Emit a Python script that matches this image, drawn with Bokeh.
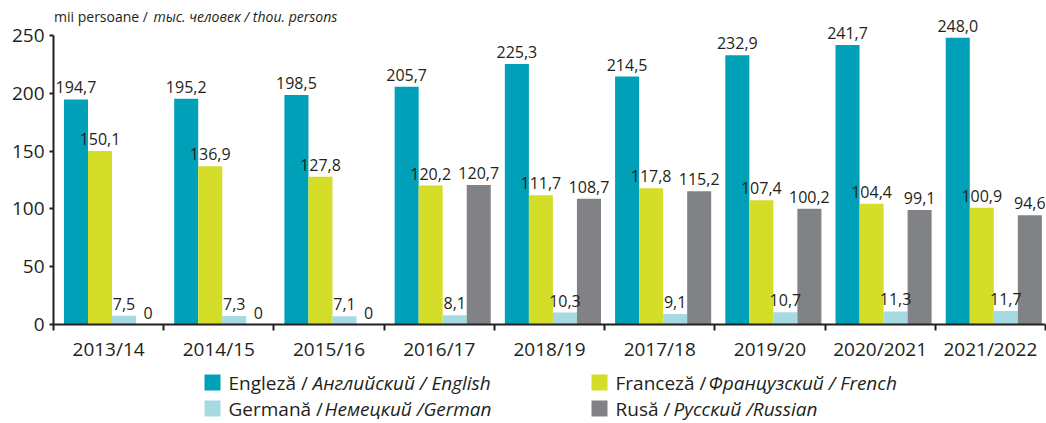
from bokeh.plotting import figure
from bokeh.models import ColumnDataSource, LabelSet, Label, Range1d, FixedTicker
from bokeh.layouts import column
from bokeh.embed import file_html
from bokeh.resources import INLINE
from bokeh.core.properties import value

# ---------------- data ----------------
categories = ["2013/14", "2014/15", "2015/16", "2016/17", "2018/19",
              "2017/18", "2019/20", "2020/2021", "2021/2022"]
english = [194.7, 195.2, 198.5, 205.7, 225.3, 214.5, 232.9, 241.7, 248.0]
french = [150.1, 136.9, 127.8, 120.2, 111.7, 117.8, 107.4, 104.4, 100.9]
german = [7.5, 7.3, 7.1, 8.1, 10.3, 9.1, 10.7, 11.3, 11.7]
russian = [0, 0, 0, 120.7, 108.7, 115.2, 100.2, 99.1, 94.6]
y_ticks = [0, 50, 100, 150, 200, 250]
Y_MAX = 250

legend_regular = ["Engleză /", "Franceză /", "Germană /", "Rusă /"]
legend_italic = ["Английский / English", "Французский / French",
                 "Немецкий /German", "Русский /Russian"]
unit_regular = "mii persoane /"
unit_italic = "тыс. человек / thou. persons"

# ---------------- style / layout ----------------
series_values = [english, french, german, russian]
series_colors = ["#00A1B8", "#D4DE28", "#A6DAE2", "#818286"]
FONT = "Open Sans"
TXT = "#231F20"
W = 1046
H_MAIN, H_LEG = 370, 53
FRAME_LEFT, FRAME_TOP, FRAME_BOTTOM = 53, 3, 324   # page pixels
Y_TOP_PX = 35                                       # page pixel of Y_MAX
BAR_W = 0.218
GROUP_START = 0.095
n = len(categories)

px_per_unit = (FRAME_BOTTOM - Y_TOP_PX) / Y_MAX
y_end = (FRAME_BOTTOM - FRAME_TOP) / px_per_unit
px_per_cat = (W - 1 - FRAME_LEFT) / n


def fmt(v):
    return "0" if v == 0 else f"{v:.1f}".replace(".", ",")


p = figure(width=W, height=H_MAIN, x_range=Range1d(0, n), y_range=Range1d(0, y_end),
           output_backend="svg", toolbar_location=None,
           min_border_left=FRAME_LEFT, min_border_right=1,
           min_border_top=FRAME_TOP, min_border_bottom=H_MAIN - FRAME_BOTTOM)
p.outline_line_color = None
p.grid.visible = False
p.background_fill_color = "white"

for k, (vals, color) in enumerate(zip(series_values, series_colors)):
    xs = [i + GROUP_START + BAR_W * (k + 0.5) for i in range(n)]
    src = ColumnDataSource(dict(x=xs, top=vals, label=[fmt(v) for v in vals]))
    p.vbar(x="x", top="top", bottom=0, width=BAR_W, source=src,
           fill_color=color, line_color=None)
    p.add_layout(LabelSet(x="x", y="top", text="label", source=src,
                          text_align="center", text_baseline="bottom", y_offset=6,
                          text_font=value(FONT), text_font_size="16px",
                          text_color=TXT))

# x axis: labels at category centres, ticks at group boundaries
xa = p.xaxis[0]
xa.ticker = FixedTicker(ticks=[i + 0.5 for i in range(n)],
                        minor_ticks=list(range(n + 1)))
xa.major_label_overrides = {i + 0.5: c for i, c in enumerate(categories)}
xa.major_tick_out = 0
xa.major_tick_in = 0
xa.minor_tick_out = 6
xa.minor_tick_in = 0
xa.minor_tick_line_width = 2
xa.minor_tick_line_color = TXT
xa.axis_line_width = 2
xa.axis_line_color = TXT
xa.major_label_text_font = FONT
xa.major_label_text_font_size = "19px"
xa.major_label_text_color = TXT
xa.major_label_standoff = 5

ya = p.yaxis[0]
ya.ticker = FixedTicker(ticks=y_ticks)
ya.bounds = (0, Y_MAX)
ya.major_tick_out = 4
ya.major_tick_in = 0
ya.major_tick_line_width = 2
ya.major_tick_line_color = TXT
ya.minor_tick_out = 0
ya.minor_tick_in = 0
ya.axis_line_width = 2
ya.axis_line_color = TXT
ya.major_label_text_font = FONT
ya.major_label_text_font_size = "19px"
ya.major_label_text_color = TXT
ya.major_label_standoff = 5

# unit title (regular + italic parts)
title_y = (FRAME_BOTTOM - 16) / px_per_unit
p.add_layout(Label(x=0.005, y=title_y, text=unit_regular, text_font=FONT,
                   text_font_size="14px", text_color=TXT,
                   text_baseline="middle", text_align="left"))
p.add_layout(Label(x=(153 - FRAME_LEFT) / px_per_cat, y=title_y, text=unit_italic,
                   text_font=FONT, text_font_size="14px", text_font_style="italic",
                   text_color=TXT, text_baseline="middle", text_align="left"))

# ---------------- legend (coordinates = page pixels) ----------------
lg = figure(width=W, height=H_LEG, x_range=Range1d(FRAME_LEFT, W - 1),
            y_range=Range1d(H_MAIN + H_LEG, H_MAIN),
            output_backend="svg", toolbar_location=None, min_border=0,
            x_axis_type=None, y_axis_type=None)
lg.outline_line_color = None
lg.grid.visible = False

order = [0, 1, 2, 3]  # English, French, German, Russian
sq_x = [212, 599, 212, 599]
row_y = [382, 382, 408, 408]
reg_x = [228, 615, 228, 615]
ita_x = [312, 708, 324, 673]

lg.rect(x=sq_x, y=row_y, width=16, height=16,
        fill_color=[series_colors[i] for i in order], line_color=None)
lg.text(x=reg_x, y=row_y, text=[legend_regular[i] for i in order],
        text_font=value(FONT), text_font_size="19px", text_color=TXT,
        text_baseline="middle", text_align="left")
lg.text(x=ita_x, y=row_y, text=[legend_italic[i] for i in order],
        text_font=value(FONT), text_font_size="19px", text_font_style="italic",
        text_color=TXT, text_baseline="middle", text_align="left")

layout = column(p, lg, spacing=0)
open("out.html", "w").write(file_html(layout, INLINE))
